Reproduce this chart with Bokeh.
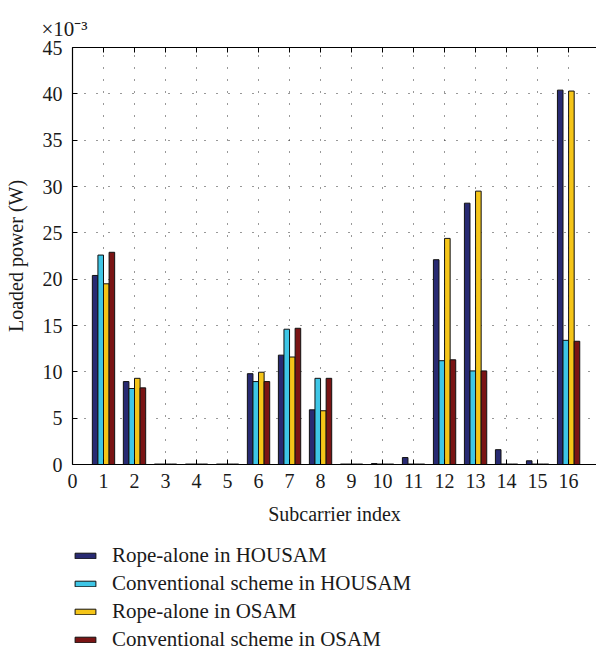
from bokeh.plotting import figure
from bokeh.layouts import column
from bokeh.models import (ColumnDataSource, Range1d, FixedTicker, LinearAxis, Legend,
                          LegendItem, Title)
from bokeh.transform import dodge
from bokeh.embed import file_html
from bokeh.resources import INLINE

# Data (loaded power, in units of 1e-3 W)
subcarriers = list(range(1, 17))
rope_housam = [20.4, 8.95, 0.05, 0.05, 0.05, 9.8, 11.8, 5.9, 0.05, 0.1, 0.75, 22.1, 28.2, 1.6, 0.4, 40.4]
conv_housam = [22.6, 8.2, 0.05, 0.05, 0.05, 8.95, 14.6, 9.3, 0.05, 0.05, 0.05, 11.2, 10.1, 0.05, 0.05, 13.4]
rope_osam = [19.5, 9.3, 0.05, 0.05, 0.05, 9.96, 11.6, 5.8, 0.05, 0.05, 0.05, 24.4, 29.5, 0.05, 0.05, 40.3]
conv_osam = [22.9, 8.27, 0.05, 0.05, 0.05, 8.95, 14.7, 9.3, 0.05, 0.05, 0.05, 11.3, 10.1, 0.05, 0.05, 13.3]
series_labels = ["Rope-alone in HOUSAM", "Conventional scheme in HOUSAM",
                 "Rope-alone in OSAM", "Conventional scheme in OSAM"]
x_ticks = list(range(0, 17))
y_ticks = list(range(0, 46, 5))
exponent_text = "×10⁻³"

colors = ["#282a72", "#3ec6e6", "#f5c518", "#7a1414"]
offsets = [-0.27, -0.09, 0.09, 0.27]
keys = ["s0", "s1", "s2", "s3"]
FONT = "Liberation Serif"
TXT = "#1a1a1a"

src = ColumnDataSource(dict(x=subcarriers, s0=rope_housam, s1=conv_housam,
                            s2=rope_osam, s3=conv_osam))

p = figure(width=596, height=530, output_backend="svg", toolbar_location=None,
           x_range=Range1d(0, 16.9), y_range=Range1d(0, 45),
           min_border_left=72, min_border_right=0, min_border_top=47,
           min_border_bottom=66, background_fill_color="white",
           border_fill_color="white", outline_line_color=None, title=None)

for i, key in enumerate(keys):
    p.vbar(x=dodge("x", offsets[i], range=p.x_range), top=key, width=0.18,
           source=src, fill_color=colors[i], line_color="#111111", line_width=1)

# axes
for ax in [p.xaxis[0], p.yaxis[0]]:
    ax.axis_line_color = "black"
    ax.axis_line_width = 1.2
    ax.major_tick_in = 5
    ax.major_tick_out = 0
    ax.minor_tick_line_color = None
    ax.major_tick_line_color = "black"
    ax.major_label_text_font = FONT
    ax.major_label_text_font_size = "20px"
    ax.major_label_text_color = TXT
    ax.axis_label_text_font = FONT
    ax.axis_label_text_font_size = "20px"
    ax.axis_label_text_font_style = "normal"
    ax.axis_label_text_color = TXT

p.xaxis[0].ticker = FixedTicker(ticks=x_ticks)
p.yaxis[0].ticker = FixedTicker(ticks=y_ticks)
p.xaxis[0].axis_label = "Subcarrier index"
p.yaxis[0].axis_label = "Loaded power (W)"
p.xaxis[0].major_label_standoff = 9
p.yaxis[0].major_label_standoff = 10
p.xaxis[0].axis_label_standoff = 12
p.yaxis[0].axis_label_standoff = 13

top_axis = LinearAxis(ticker=FixedTicker(ticks=x_ticks), major_label_text_font_size="0px",
                      major_label_standoff=5,
                      major_tick_in=5, major_tick_out=0, minor_tick_line_color=None,
                      axis_line_color="black", axis_line_width=1.2)
top_axis.major_label_text_color = None
p.add_layout(top_axis, "above")

exp_title = Title(text=exponent_text, text_font=FONT, text_font_size="21px",
                  text_font_style="normal", text_color=TXT, align="left",
                  offset=-31, standoff=14)
p.add_layout(exp_title, "above")

# grids
p.xgrid.ticker = FixedTicker(ticks=x_ticks[1:])
p.ygrid.ticker = FixedTicker(ticks=y_ticks[1:])
for g in [p.xgrid[0], p.ygrid[0]]:
    g.grid_line_color = "#333333"
    g.grid_line_dash = "1 11"
    g.grid_line_width = 1

# legend panel below the plot
p2 = figure(width=596, height=122, output_backend="svg", toolbar_location=None,
            x_range=p.x_range, y_range=Range1d(1000, 1001),
            x_axis_location=None, y_axis_location=None,
            min_border_left=72, min_border_right=0, min_border_top=0, min_border_bottom=0,
            outline_line_color=None, background_fill_color="white", border_fill_color="white")
p2.xgrid.visible = False
p2.ygrid.visible = False
proxies = []
for i, key in enumerate(keys):
    r = p2.vbar(x=dodge("x", offsets[i], range=p2.x_range), top=key, width=0.18,
                source=src, fill_color=colors[i], line_color="#111111", line_width=1)
    proxies.append(r)

legend = Legend(items=[LegendItem(label=series_labels[i], renderers=[proxies[i]])
                       for i in range(4)],
                location=(0, 0), orientation="vertical",
                label_text_font=FONT, label_text_font_size="21px", label_text_color=TXT,
                glyph_width=26, glyph_height=7, label_height=24, label_standoff=14,
                spacing=3, padding=0, margin=0, border_line_color=None,
                background_fill_alpha=0)
p2.add_layout(legend, "center")

layout = column(p, p2, spacing=0)
open("out.html", "w").write(file_html(layout, INLINE))
